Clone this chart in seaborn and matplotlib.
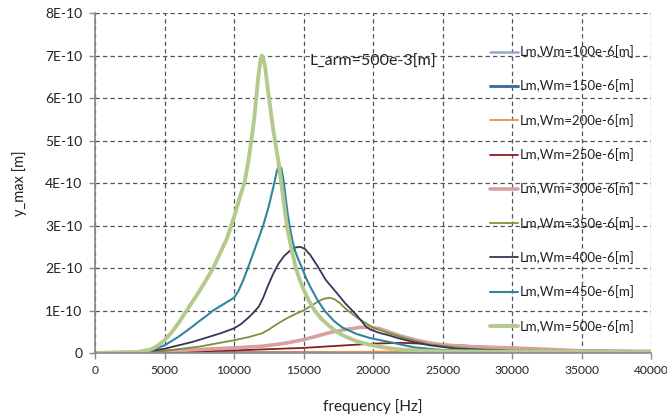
import numpy as np
import pandas as pd
import matplotlib
matplotlib.use("Agg")
import matplotlib.pyplot as plt
from matplotlib.ticker import FixedLocator, FixedFormatter
import seaborn as sns

# ---------------- data (y in units of 1E-10 m) ----------------
labels = ["Lm,Wm=100e-6[m]", "Lm,Wm=150e-6[m]", "Lm,Wm=200e-6[m]",
          "Lm,Wm=250e-6[m]", "Lm,Wm=300e-6[m]", "Lm,Wm=350e-6[m]",
          "Lm,Wm=400e-6[m]", "Lm,Wm=450e-6[m]", "Lm,Wm=500e-6[m]"]

f100 = [0, 10000, 20000, 30000, 35000, 40000]
y100 = [0, 0.0, 0.005, 0.01, 0.02, 0.03]

f150 = [0, 10000, 20000, 25000, 30000, 34000, 37000, 40000]
y150 = [0, 0.003, 0.01, 0.02, 0.03, 0.05, 0.045, 0.04]

f200 = [0, 10000, 15000, 20000, 25000, 28000, 31000, 34000, 37000, 40000]
y200 = [0, 0.01, 0.02, 0.03, 0.05, 0.06, 0.055, 0.045, 0.03, 0.02]

f250 = [0, 5000, 10000, 15000, 20000, 22000, 25000, 28000, 30000, 33000, 36000, 40000]
y250 = [0, 0.02, 0.06, 0.12, 0.22, 0.24, 0.2, 0.15, 0.12, 0.07, 0.04, 0.02]

f300 = [0, 4000, 6000, 8000, 10000, 12000, 13500, 14800, 16000, 17000, 18000,
        19000, 19700, 20500, 21200, 21800, 23000, 24200, 25000, 27000, 30000,
        33000, 35000, 40000]
y300 = [0, 0.03, 0.06, 0.09, 0.12, 0.16, 0.22, 0.3, 0.4, 0.49, 0.55,
        0.6, 0.61, 0.57, 0.49, 0.42, 0.31, 0.23, 0.19, 0.15, 0.12,
        0.08, 0.05, 0.02]

f350 = [0, 3000, 5000, 7500, 10000, 11000, 12000, 12500, 13000, 13500, 14000,
        14500, 15000, 15500, 16000, 16400, 16850, 17200, 17600, 18000, 18500,
        19000, 19500, 20000, 21000, 22000, 23000, 24100, 27000, 30000, 40000]
y350 = [0, 0.01, 0.05, 0.15, 0.3, 0.37, 0.46, 0.55, 0.66, 0.76, 0.85,
        0.93, 1.0, 1.1, 1.2, 1.27, 1.3, 1.27, 1.18, 1.05, 0.92,
        0.8, 0.7, 0.6, 0.48, 0.38, 0.29, 0.2, 0.1, 0.06, 0.02]

f400 = [0, 3000, 4000, 5000, 6000, 7000, 8000, 9000, 10000, 10500, 11000,
        11400, 11800, 12100, 12400, 12800, 13200, 13600, 14000, 14400, 14750,
        15100, 15500, 16000, 16600, 17300, 18000, 18800, 19500, 19800, 20500,
        21100, 21800, 23000, 24100, 26000, 30000, 40000]
y400 = [0, 0.02, 0.05, 0.1, 0.18, 0.26, 0.36, 0.46, 0.58, 0.68, 0.82,
        0.95, 1.1, 1.3, 1.55, 1.85, 2.1, 2.28, 2.4, 2.48, 2.5,
        2.45, 2.3, 2.05, 1.72, 1.45, 1.17, 0.9, 0.62, 0.55, 0.47,
        0.42, 0.35, 0.25, 0.18, 0.1, 0.05, 0.02]

f450 = [0, 3000, 4000, 5000, 6000, 7000, 7500, 8000, 8500, 9000, 9500,
        10000, 10300, 10650, 11000, 11500, 12100, 12500, 12900, 13100,
        13250, 13400, 13550, 13700, 13850, 14000, 14200, 14400, 14650, 14900,
        15200, 15500, 16000, 16500, 17200, 17800, 18800, 19800, 21000, 22000,
        23000, 25000, 30000, 40000]
y450 = [0, 0.02, 0.06, 0.18, 0.38, 0.62, 0.75, 0.87, 1.0, 1.1, 1.2,
        1.3, 1.45, 1.7, 2.0, 2.45, 3.0, 3.45, 4.0, 4.3,
        4.42, 4.35, 4.1, 3.7, 3.3, 3.0, 2.65, 2.4, 2.18, 2.0,
        1.75, 1.55, 1.25, 1.0, 0.75, 0.6, 0.45, 0.35, 0.27, 0.2,
        0.13, 0.07, 0.04, 0.02]

f500 = [0, 3000, 4000, 4500, 5000, 5500, 6000, 6500, 7000, 7500, 8000,
        8500, 9000, 9500, 9800, 10100, 10400, 10750, 11000, 11250, 11450,
        11600, 11750, 11900, 12000, 12100, 12250, 12400, 12600, 12800, 12950,
        13200, 13400, 13600, 13800, 14100, 14450, 14700, 15000, 15400, 15800,
        16300, 16800, 17300, 17800, 18800, 19800, 21000, 22000, 23000, 25000,
        30000, 40000]
y500 = [0, 0.02, 0.08, 0.17, 0.3, 0.48, 0.7, 0.95, 1.2, 1.45, 1.72,
        2.0, 2.35, 2.7, 3.0, 3.3, 3.65, 4.0, 4.45, 5.0, 5.5,
        6.0, 6.5, 6.88, 7.0, 6.95, 6.7, 6.3, 5.8, 5.3, 5.0,
        4.5, 4.0, 3.5, 3.0, 2.5, 2.0, 1.75, 1.5, 1.22, 1.0,
        0.8, 0.65, 0.52, 0.42, 0.28, 0.19, 0.12, 0.08, 0.06, 0.04,
        0.03, 0.02]

freqs = [f100, f150, f200, f250, f300, f350, f400, f450, f500]
values = [y100, y150, y200, y250, y300, y350, y400, y450, y500]

colors = ["#8FAACB", "#4A6FA5", "#E8953F", "#8C1C1C", "#D9A0A0",
          "#77933C", "#3F3059", "#2E869C", "#B3CA8C"]
widths = [1.8, 2.2, 1.3, 1.3, 2.6, 1.3, 1.3, 1.5, 2.8]

xticks = [0, 5000, 10000, 15000, 20000, 25000, 30000, 35000, 40000]
yticks = [0, 1, 2, 3, 4, 5, 6, 7, 8]
ytick_labels = ["0", "1E-10", "2E-10", "3E-10", "4E-10", "5E-10", "6E-10",
                "7E-10", "8E-10"]

# ---------------- plot ----------------
sns.set_theme(style="white")
plt.rcParams["font.family"] = ["Lato", "DejaVu Sans"]

fig = plt.figure(figsize=(6.67, 4.19), dpi=100)
ax = fig.add_axes([95 / 667, 1 - 353 / 419, (651 - 95) / 667, (353 - 13) / 419])

for lab, fx, fy, c, w in zip(labels, freqs, values, colors, widths):
    df = pd.DataFrame({"frequency": fx, "y": np.array(fy) * 1e-10})
    sns.lineplot(data=df, x="frequency", y="y", ax=ax, color=c,
                 linewidth=w, label=lab, sort=True, estimator=None)
for ln in ax.get_lines():
    ln.set_solid_joinstyle("round")
    ln.set_solid_capstyle("round")

ax.set_xlim(0, 40000)
ax.set_ylim(0, 8e-10)
ax.xaxis.set_major_locator(FixedLocator(xticks))
ax.set_xticklabels([str(t) for t in xticks])
ax.yaxis.set_major_locator(FixedLocator([t * 1e-10 for t in yticks]))
ax.yaxis.set_major_formatter(FixedFormatter(ytick_labels))

ax.grid(True, which="major", color="#555555", linestyle=(0, (3.5, 2.5)),
        linewidth=0.9)
for s in ["top", "right"]:
    ax.spines[s].set_visible(False)
for s in ["left", "bottom"]:
    ax.spines[s].set_color("#8a8a8a")
    ax.spines[s].set_linewidth(1.2)
ax.tick_params(axis="both", which="major", direction="out", length=4,
               width=1, color="#8a8a8a", labelsize=10, labelcolor="#222222",
               left=True, bottom=True, pad=5)
ax.tick_params(axis="x", labelsize=8.7)

ax.set_xlabel("frequency [Hz]", fontsize=11, color="#222222", labelpad=16)
ax.set_ylabel("y_max [m]", fontsize=10.5, color="#222222", labelpad=13)

ax.text(15400, 6.85e-10, "L_arm=500e-3[m]", fontsize=11.5, color="#222222",
        ha="left", va="center")

leg = ax.legend(loc="upper left", bbox_to_anchor=(390 / 556, 1 - 27 / 340),
                frameon=False, fontsize=9.5, labelspacing=1.62,
                handlelength=2.1, handletextpad=0.15, borderaxespad=0)
for t in leg.get_texts():
    t.set_color("#222222")

fig.savefig("out.png", dpi=100, facecolor="white")
